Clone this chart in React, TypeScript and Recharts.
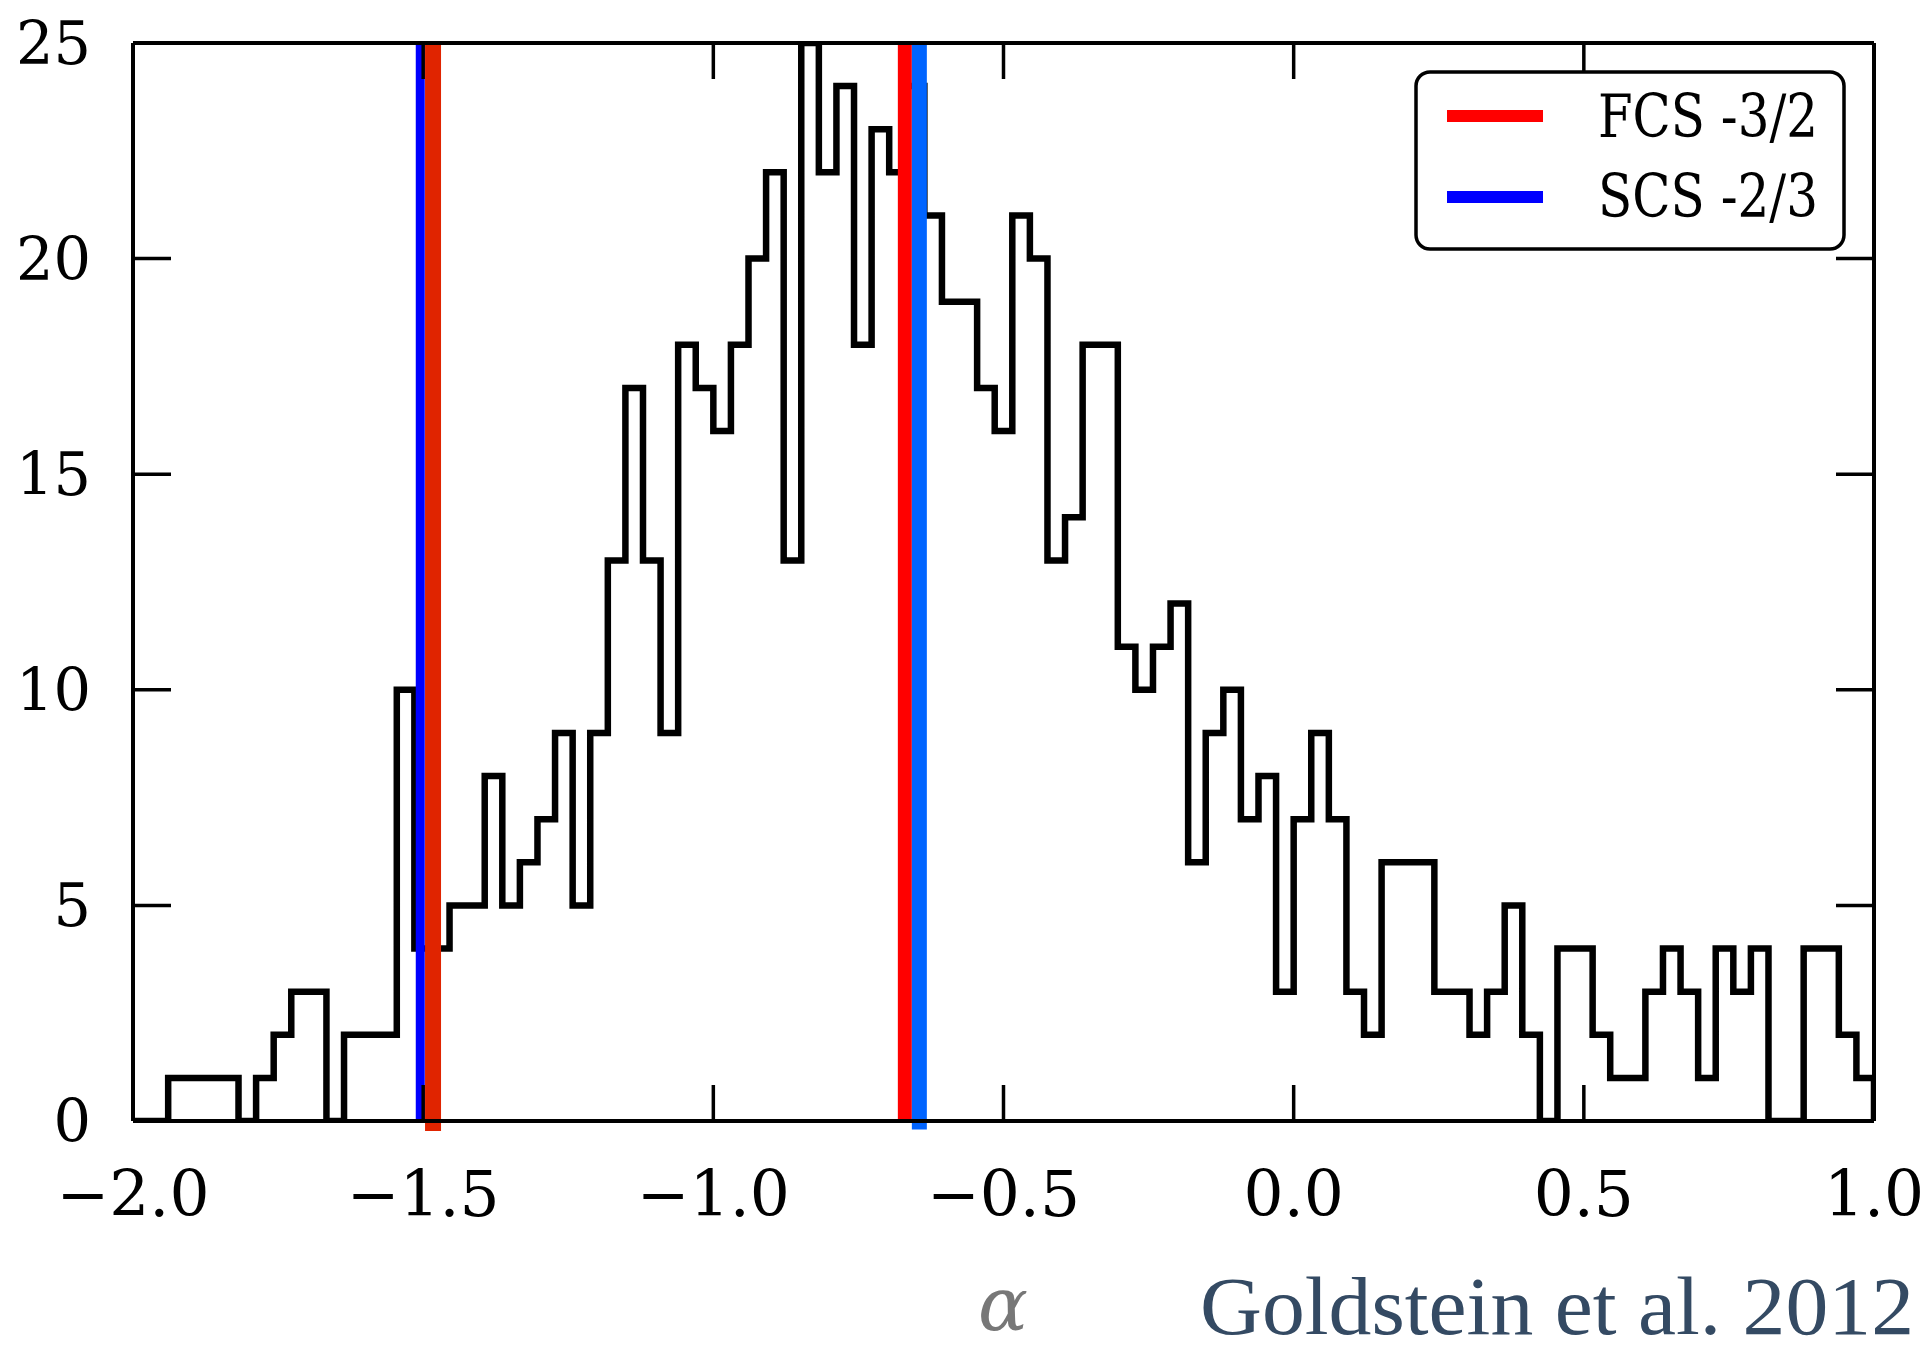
import {
  ComposedChart,
  Line,
  ReferenceLine,
  XAxis,
  YAxis,
} from "recharts";

// histogram of alpha, 99 equal bins between -2.0 and 1.0
const X_MIN = -2.0;
const X_MAX = 1.0;
const BIN_COUNTS = [
  0, 0, 1, 1, 1, 1, 0, 1, 2, 3,
  3, 0, 2, 2, 2, 10, 4, 4, 5, 5,
  8, 5, 6, 7, 9, 5, 9, 13, 17, 13,
  9, 18, 17, 16, 18, 20, 22, 13, 25, 22,
  24, 18, 23, 22, 24, 21, 19, 19, 17, 16,
  21, 20, 13, 14, 18, 18, 11, 10, 11, 12,
  6, 9, 10, 7, 8, 3, 7, 9, 7, 3,
  2, 6, 6, 6, 3, 3, 2, 3, 5, 2,
  0, 4, 4, 2, 1, 1, 3, 4, 3, 1,
  4, 3, 4, 0, 0, 4, 4, 2, 1,
];

const X_TICKS = [-2.0, -1.5, -1.0, -0.5, 0.0, 0.5, 1.0];
const Y_TICKS = [0, 5, 10, 15, 20, 25];

// vertical marker lines as they sit in the figure
const LEFT_BLUE_X = -1.505;
const LEFT_RED_X = -1.483;
const RIGHT_RED_X = -0.67;
const RIGHT_BLUE_X = -0.645;

const LEGEND_ITEMS = [
  { label: "FCS -3/2", color: "#ff0000" },
  { label: "SCS -2/3", color: "#0000ff" },
];

const binWidth = (X_MAX - X_MIN) / BIN_COUNTS.length;
const histData = BIN_COUNTS.map((count, i) => ({
  x: X_MIN + i * binWidth,
  count,
}));
histData.push({ x: X_MAX, count: 0 });

const SERIF = "'DejaVu Serif', serif";

const fmtX = (v: number) => {
  const s = Math.abs(v).toFixed(1);
  return v < 0 ? `\u2212${s}` : s;
};

const BottomTick = (props: any) => {
  const { x, y, payload } = props;
  return (
    <g>
      <line x1={x} y1={y} x2={x} y2={y - 36} stroke="#000" strokeWidth={3.5} />
      <text x={x} y={y + 95} textAnchor="middle" fontFamily={SERIF} fontSize={63} fill="#000">
        {fmtX(payload.value)}
      </text>
    </g>
  );
};

const TopTick = (props: any) => {
  const { x, y } = props;
  return <line x1={x} y1={y} x2={x} y2={y + 36} stroke="#000" strokeWidth={3.5} />;
};

const LeftTick = (props: any) => {
  const { x, y, payload } = props;
  return (
    <g>
      <line x1={x} y1={y} x2={x + 38} y2={y} stroke="#000" strokeWidth={3.5} />
      <text x={x - 42} y={y + 21} textAnchor="end" fontFamily={SERIF} fontSize={59} fill="#000">
        {payload.value}
      </text>
    </g>
  );
};

const RightTick = (props: any) => {
  const { x, y } = props;
  return <line x1={x} y1={y} x2={x - 38} y2={y} stroke="#000" strokeWidth={3.5} />;
};

const axisLine = { stroke: "#000", strokeWidth: 4 };

export default function App() {
  return (
    <div
      style={{
        position: "absolute",
        left: 0,
        top: 0,
        width: 1930,
        height: 1353,
        overflow: "hidden",
        background: "#fff",
      }}
    >
      <ComposedChart
        width={1930}
        height={1353}
        data={histData}
        margin={{ top: 0, right: 0, bottom: 0, left: 0 }}
      >
        <XAxis
          dataKey="x"
          type="number"
          domain={[X_MIN, X_MAX]}
          ticks={X_TICKS}
          interval={0}
          height={232}
          axisLine={axisLine}
          tickLine={false}
          tickSize={0}
          tickMargin={0}
          tick={<BottomTick />}
          allowDataOverflow
        />
        <XAxis
          xAxisId="top"
          orientation="top"
          dataKey="x"
          type="number"
          domain={[X_MIN, X_MAX]}
          ticks={X_TICKS}
          interval={0}
          height={43}
          axisLine={axisLine}
          tickLine={false}
          tickSize={0}
          tickMargin={0}
          tick={<TopTick />}
          allowDataOverflow
        />
        <YAxis
          type="number"
          domain={[0, 25]}
          ticks={Y_TICKS}
          interval={0}
          width={133}
          axisLine={axisLine}
          tickLine={false}
          tickSize={0}
          tickMargin={0}
          tick={<LeftTick />}
          allowDataOverflow
        />
        <YAxis
          yAxisId="right"
          orientation="right"
          type="number"
          domain={[0, 25]}
          ticks={Y_TICKS}
          interval={0}
          width={56}
          axisLine={axisLine}
          tickLine={false}
          tickSize={0}
          tickMargin={0}
          tick={<RightTick />}
          allowDataOverflow
        />
        <Line
          dataKey="count"
          type="stepAfter"
          stroke="#000"
          strokeWidth={6.5}
          strokeLinejoin="miter"
          dot={false}
          activeDot={false}
          isAnimationActive={false}
        />
        <ReferenceLine
          segment={[{ x: LEFT_BLUE_X, y: 0 }, { x: LEFT_BLUE_X, y: 25 }]}
          stroke="#0000ff"
          strokeWidth={9}
          ifOverflow="visible"
        />
        <ReferenceLine
          segment={[{ x: LEFT_RED_X, y: -0.23 }, { x: LEFT_RED_X, y: 25 }]}
          stroke="#e02400"
          strokeWidth={16}
          ifOverflow="visible"
        />
        <ReferenceLine
          segment={[{ x: RIGHT_RED_X, y: 0 }, { x: RIGHT_RED_X, y: 25 }]}
          stroke="#ff0000"
          strokeWidth={14}
          ifOverflow="visible"
        />
        <ReferenceLine
          segment={[{ x: RIGHT_BLUE_X, y: -0.2 }, { x: RIGHT_BLUE_X, y: 25 }]}
          stroke="#0064ff"
          strokeWidth={15}
          ifOverflow="visible"
        />
      </ComposedChart>

      {/* legend, axis label and citation */}
      <svg
        width={1930}
        height={1353}
        style={{ position: "absolute", left: 0, top: 0, pointerEvents: "none" }}
      >
        <rect x={1416} y={72} width={428} height={177} rx={14} ry={14} fill="#fff" stroke="#000" strokeWidth={3.5} />
        {LEGEND_ITEMS.map((item, i) => (
          <g key={item.label}>
            <line
              x1={1447}
              x2={1543}
              y1={116 + i * 81}
              y2={116 + i * 81}
              stroke={item.color}
              strokeWidth={12}
            />
            <text
              x={1598}
              y={137 + i * 80}
              fontFamily={SERIF}
              fontSize={60}
              textLength={220}
              lengthAdjust="spacingAndGlyphs"
              fill="#000"
            >
              {item.label}
            </text>
          </g>
        ))}
        <text
          x={1003}
          y={1330}
          textAnchor="middle"
          fontFamily={SERIF}
          fontStyle="italic"
          fontSize={74}
          fill="#777"
        >
          α
        </text>
        <text
          x={1200}
          y={1334}
          fontFamily="'Liberation Serif', serif"
          fontSize={82}
          textLength={714}
          lengthAdjust="spacingAndGlyphs"
          fill="#344a63"
        >
          Goldstein et al. 2012
        </text>
      </svg>
    </div>
  );
}
